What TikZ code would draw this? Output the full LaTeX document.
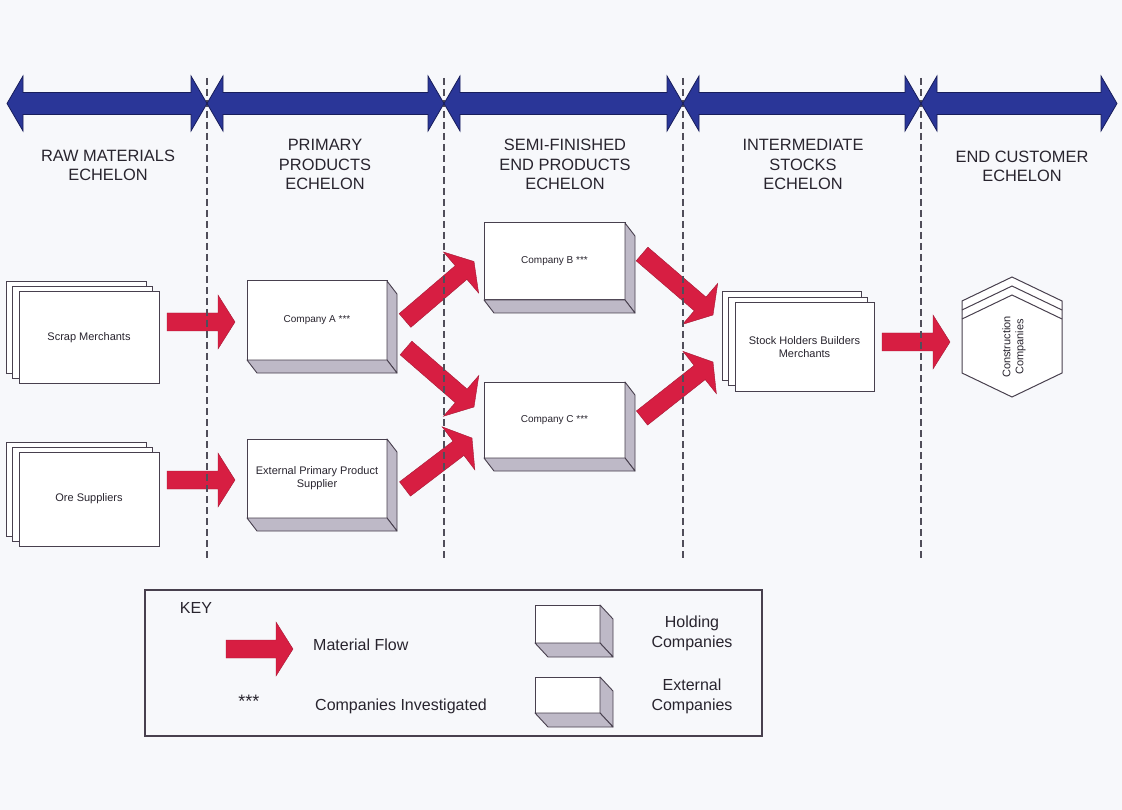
\documentclass[tikz,border=0pt]{standalone}
\usepackage{fontspec}
\setmainfont{Liberation Sans}
\usetikzlibrary{calc}

\definecolor{pagebg}{RGB}{247,248,251}
\definecolor{echblue}{RGB}{42,54,152}
\definecolor{echblueedge}{RGB}{24,30,92}
\definecolor{flowred}{RGB}{215,30,66}
\definecolor{flowedge}{RGB}{165,24,52}
\definecolor{inkline}{RGB}{72,64,78}
\definecolor{sideface}{RGB}{190,185,199}
\definecolor{divider}{RGB}{80,78,90}
\definecolor{inktext}{RGB}{40,36,46}

\pgfdeclarelayer{paper}
\pgfdeclarelayer{behind}
\pgfsetlayers{paper,behind,main}

% double-headed echelon band between two coordinates on the same row
\newcommand\echarrow[2]{%
  \filldraw[ech] (#1) -- ($(#1)+(16,-27.5)$) -- ($(#1)+(16,-11)$)
    -- ($(#2)+(-16,-11)$) -- ($(#2)+(-16,-27.5)$) -- (#2)
    -- ($(#2)+(-16,27.5)$) -- ($(#2)+(-16,11)$)
    -- ($(#1)+(16,11)$) -- ($(#1)+(16,27.5)$) -- cycle;}

% block arrow for material flow: tail, tip
\newcommand\flowarrow[2]{%
  \coordinate (fltail) at (#1);
  \coordinate (fltip) at (#2);
  \coordinate (flhead) at ($(fltip)!17pt!(fltail)$);
  \filldraw[flow] ($(fltail)!9pt!90:(fltip)$) -- ($(flhead)!9pt!90:(fltip)$)
    -- ($(flhead)!27pt!90:(fltip)$) -- (fltip)
    -- ($(flhead)!27pt!-90:(fltip)$) -- ($(flhead)!9pt!-90:(fltip)$)
    -- ($(fltail)!9pt!-90:(fltip)$) -- cycle;}

% right and bottom faces of a block
\newcommand\boxsides[3]{%
  \filldraw[side] (#1.north east) -- ++(#2,#3) -- ($(#1.south east)+(#2,#3)$)
    -- (#1.south east) -- cycle;
  \filldraw[side] (#1.south west) -- ++(#2,#3) -- ($(#1.south east)+(#2,#3)$)
    -- (#1.south east) -- cycle;}

% two sheets stacked behind a front sheet
\newcommand\stackback[3]{%
  \begin{pgfonlayer}{behind}
  \filldraw[sheet] ($(#1.north west)+(2*#2,2*#3)$) rectangle ($(#1.south east)+(2*#2,2*#3)$);
  \filldraw[sheet] ($(#1.north west)+(#2,#3)$) rectangle ($(#1.south east)+(#2,#3)$);
  \end{pgfonlayer}}

\begin{document}
\begin{tikzpicture}[x=1pt,y=-1pt,
  heading/.style={align=center, font=\fontsize{16.4}{19.5}\selectfont, text=inktext, inner sep=0pt},
  boxtext/.style={font=\fontsize{11}{12.8}\selectfont, align=center, text=inktext},
  front/.style={draw=inkline, fill=white, line width=1pt, outer sep=0pt, inner sep=2pt, boxtext},
  comptext/.style={font=\fontsize{10}{12}\selectfont},
  sheet/.style={draw=inkline, fill=white, line width=1pt},
  side/.style={draw=inkline, fill=sideface, line width=0.9pt, line join=round},
  flow/.style={fill=flowred, draw=flowedge, line width=0.4pt, line join=miter},
  ech/.style={fill=echblue, draw=echblueedge, line width=0.8pt, line join=miter},
  divline/.style={draw=divider, line width=1.1pt, dash pattern=on 7pt off 4pt},
  keytext/.style={font=\fontsize{16}{20}\selectfont, text=inktext, inner sep=0pt, align=center},
  hexline/.style={draw=inkline, line width=1pt, line join=miter},
]
\useasboundingbox (0,0) rectangle (1122,810);
\begin{pgfonlayer}{paper}
  \fill[pagebg] (0,0) rectangle (1122,810);
\end{pgfonlayer}

% echelon boundaries
\foreach \n/\x in {0/7, 1/207, 2/444, 3/683, 4/921, 5/1117}
  \coordinate (b\n) at (\x,103.5);
\foreach \n/\x in {1/207, 2/444, 3/683, 4/921} {
  \coordinate (dt\n) at (\x,78);
  \coordinate (db\n) at (\x,560);
}

% echelon headings
\node[heading] (hraw)  at (108,165.5)  {RAW MATERIALS\\ECHELON};
\node[heading] (hprim) at (325,164.5)  {PRIMARY\\PRODUCTS\\ECHELON};
\node[heading] (hsemi) at (565,164.5)  {SEMI-FINISHED\\END PRODUCTS\\ECHELON};
\node[heading] (hint)  at (803,164.5)  {INTERMEDIATE\\STOCKS\\ECHELON};
\node[heading] (hend)  at (1022,166.5) {END CUSTOMER\\ECHELON};

% raw material suppliers
\node[front, minimum width=140, minimum height=91] (scrap) at (89,337.5) {Scrap Merchants};
\stackback{scrap}{-6.5}{-5}
\node[front, minimum width=140, minimum height=94] (ore) at (89,499) {Ore Suppliers};
\stackback{ore}{-6.5}{-5}

% primary products
\node[front, comptext, minimum width=140, minimum height=79] (compA) at (317,320.5) {Company A ***};
\boxsides{compA}{10}{13}
\node[front, minimum width=140, minimum height=79] (ext) at (317,478.5) {External Primary Product\\Supplier};
\boxsides{ext}{10}{13}

% semi-finished end products
\node[front, comptext, minimum width=141, minimum height=77] (compB) at (554.5,261.5) {Company B ***};
\boxsides{compB}{10}{13}
\node[front, comptext, minimum width=141, minimum height=76] (compC) at (554.5,420) {Company C ***};
\boxsides{compC}{10}{13}

% intermediate stocks
\node[front, minimum width=139, minimum height=88] (stock) at (804.5,347) {Stock Holders Builders\\Merchants};
\stackback{stock}{-6.5}{-5.5}

% end customers
\filldraw[hexline, fill=white] (962,301) -- (1012,277) -- (1062,301) -- (1062,373)
  -- (1012,397) -- (962,373) -- cycle;
\draw[hexline] (962,310) -- (1012,286) -- (1062,310);
\draw[hexline] (962,319) -- (1012,295) -- (1062,319);
\coordinate (hexw) at (962,346);
\node[boxtext, rotate=90, inner sep=0pt] (cons) at (1014,347) {Construction\\Companies};

% material flows
\flowarrow{$(scrap.east|-compA.west)+(8,1.5)$}{$(compA.west)+(-12,1.5)$}
\flowarrow{$(ore.east|-ext.west)+(8,1.5)$}{$(ext.west)+(-12,1.5)$}
\flowarrow{$(compA.east)+(18,0)$}{$(compB.west)+(-10,0)$}
\flowarrow{$(compA.east)+(19,27.5)$}{$(compC.west)+(-10,-13)$}
\flowarrow{$(ext.east)+(18,10.5)$}{$(compC.west)+(-12,18)$}
\flowarrow{$(compB.east)+(17,-7.5)$}{$(stock.west)+(-22,-32)$}
\flowarrow{$(compC.east)+(17,-2)$}{$(stock.west)+(-22,15)$}
\flowarrow{$(stock.east)+(8,-5)$}{$(hexw)+(-12,-4)$}

% echelon dividers
\foreach \n in {1,2,3,4}
  \draw[divline] (dt\n) -- (db\n);

% echelon bands
\echarrow{b0}{b1}
\echarrow{b1}{b2}
\echarrow{b2}{b3}
\echarrow{b3}{b4}
\echarrow{b4}{b5}

% key
\node[draw=inkline, line width=1.3pt, minimum width=617, minimum height=146, outer sep=0pt] (key) at (453.5,663) {};
\node[keytext] (keyhead) at (196,608) {KEY};
\flowarrow{$(key.west)+(81,-14)$}{$(key.west)+(148,-14)$}
\node[keytext, anchor=west] (kflow) at (313,645) {Material Flow};
\node[keytext, font=\fontsize{18}{20}\selectfont] (kstars) at (249,701) {***};
\node[keytext, anchor=west] (kinv) at (315,706.5) {Companies Investigated};
\node[front, minimum width=65, minimum height=38] (khold) at (567.5,624) {};
\boxsides{khold}{13}{14}
\node[front, minimum width=65, minimum height=36] (kext) at (567.5,695) {};
\boxsides{kext}{13}{14}
\node[keytext] (kholdt) at (692,633) {Holding\\Companies};
\node[keytext] (kextt) at (692,696) {External\\Companies};
\end{tikzpicture}
\end{document}
